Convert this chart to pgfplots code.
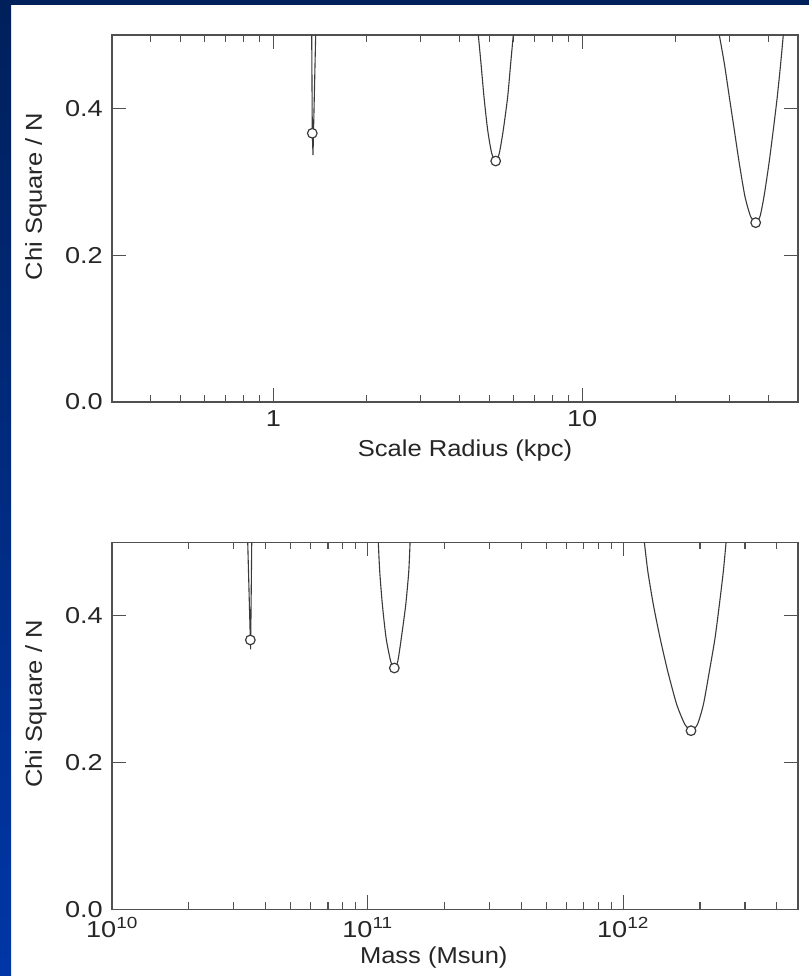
\documentclass[border=0pt]{standalone}
\usepackage{fontspec}
\setmainfont{Liberation Sans}[FakeStretch=1.18]
\newfontfamily\labelfont{Liberation Sans}[FakeStretch=1.11]
\usepackage{pgfplots}
\pgfplotsset{compat=1.18}
\definecolor{navy}{HTML}{00205B}
\definecolor{slideblue}{HTML}{0036A6}
\definecolor{axgray}{HTML}{505050}
\definecolor{curvegray}{HTML}{3A3A3A}
\begin{document}
\begin{tikzpicture}[x=1pt,y=1pt]
\path[use as bounding box] (0,0) rectangle (809,976);
\fill[white] (0,0) rectangle (809,976);
\shade[top color=navy, bottom color=slideblue] (0,0) rectangle (11,976);
\fill[navy] (0,971) rectangle (809,976);

\begin{axis}[xmode=log, scale only axis, width=686pt, height=367pt,
  at={(112pt,574pt)}, anchor=south west,
  ymin=0, ymax=0.5, ytick={0,0.2,0.4},
  yticklabel style={/pgf/number format/fixed, /pgf/number format/fixed zerofill, /pgf/number format/precision=1, /pgf/number format/assume math mode=true, anchor=east, inner sep=0pt, xshift=-9pt},
  axis line style={axgray, line width=1.2pt},
  tick style={axgray, line width=1.1pt},
  major tick length=14pt, minor tick length=7pt,
  tick align=inside,
  tick label style={font=\fontsize{23}{27}\selectfont, text=black!85},
  label style={font=\labelfont\fontsize{23}{27}\selectfont, text=black!85},
  xticklabel style={anchor=north, inner sep=0pt, yshift=-8pt},
  ylabel={Chi Square / N},
  ylabel style={at={(axis description cs:-0.1108,0.56)}, anchor=center},
  xmin=0.3, xmax=50, xtick={1,10}, xticklabels={1,10},
  minor xtick={0.4,0.5,0.6,0.7,0.8,0.9,2,3,4,5,6,7,8,9,20,30,40},
  xlabel={Scale Radius (kpc)},
  xlabel style={at={(axis description cs:0.5146,-0.1335)}, anchor=center}]
\addplot[curvegray, line width=1.1pt, mark=none] coordinates {(1.3303,0.5) (1.3361,0.3661) (1.3432,0.3365) (1.3703,0.5)};
\addplot[curvegray, line width=1.1pt, mark=none, smooth, tension=0.4] coordinates {(4.608,0.5) (4.701,0.4614) (4.807,0.4159) (4.941,0.3706) (5.092,0.3388) (5.246,0.3283) (5.389,0.3388) (5.552,0.3706) (5.737,0.4159) (5.867,0.4614) (5.982,0.5)};
\addplot[curvegray, line width=1.1pt, mark=none, smooth, tension=0.4] coordinates {(27.80,0.5) (28.86,0.4614) (29.95,0.4159) (31.09,0.3706) (32.27,0.3252) (33.67,0.2797) (35.13,0.2525) (36.47,0.2443) (37.65,0.2525) (38.80,0.2797) (40.27,0.3252) (41.58,0.3706) (42.84,0.4159) (43.94,0.4614) (44.80,0.5)};
\addplot[only marks, mark=*, mark size=4.8pt, mark options={draw=curvegray, fill=white, line width=1.2pt}] coordinates {(1.3361,0.3661) (5.246,0.3283) (36.47,0.2443)};
\end{axis}

\begin{axis}[xmode=log, scale only axis, width=686pt, height=367pt,
  at={(112pt,66.5pt)}, anchor=south west,
  ymin=0, ymax=0.5, ytick={0,0.2,0.4},
  yticklabel style={/pgf/number format/fixed, /pgf/number format/fixed zerofill, /pgf/number format/precision=1, /pgf/number format/assume math mode=true, anchor=east, inner sep=0pt, xshift=-9pt},
  axis line style={axgray, line width=1.2pt},
  tick style={axgray, line width=1.1pt},
  major tick length=14pt, minor tick length=7pt,
  tick align=inside,
  tick label style={font=\fontsize{23}{27}\selectfont, text=black!85},
  label style={font=\labelfont\fontsize{23}{27}\selectfont, text=black!85},
  xticklabel style={anchor=north, inner sep=0pt, yshift=-8pt},
  ylabel={Chi Square / N},
  ylabel style={at={(axis description cs:-0.1108,0.56)}, anchor=center},
  xmin=1e10, xmax=4.84e12, xtick={1e10,1e11,1e12},
  xticklabels={10\textsuperscript{10},10\textsuperscript{11},10\textsuperscript{12}},
  minor xtick={2e10,3e10,4e10,5e10,6e10,7e10,8e10,9e10,2e11,3e11,4e11,5e11,6e11,7e11,8e11,9e11,2e12,3e12,4e12},
  xlabel={Mass (Msun)},
  xlabel style={at={(axis description cs:0.469,-0.130)}, anchor=center}]
\addplot[curvegray, line width=1.1pt, mark=none] coordinates {(3.397e10,0.5) (3.478e10,0.3672) (3.487e10,0.3545) (3.522e10,0.5)};
\addplot[curvegray, line width=1.1pt, mark=none, smooth, tension=0.4] coordinates {(1.102e11,0.5) (1.116e11,0.4608) (1.143e11,0.4153) (1.182e11,0.3699) (1.232e11,0.3381) (1.273e11,0.3290) (1.313e11,0.3381) (1.356e11,0.3699) (1.411e11,0.4153) (1.450e11,0.4608) (1.467e11,0.5)};
\addplot[curvegray, line width=1.1pt, mark=none, smooth, tension=0.4] coordinates {(1.212e12,0.5) (1.250e12,0.4608) (1.314e12,0.4153) (1.396e12,0.3699) (1.496e12,0.3245) (1.623e12,0.2790) (1.748e12,0.2518) (1.845e12,0.2436) (1.953e12,0.2518) (2.062e12,0.2790) (2.177e12,0.3245) (2.291e12,0.3699) (2.382e12,0.4153) (2.469e12,0.4608) (2.530e12,0.5)};
\addplot[only marks, mark=*, mark size=4.8pt, mark options={draw=curvegray, fill=white, line width=1.2pt}] coordinates {(3.478e10,0.3672) (1.273e11,0.3290) (1.845e12,0.2436)};
\end{axis}
\end{tikzpicture}
\end{document}
